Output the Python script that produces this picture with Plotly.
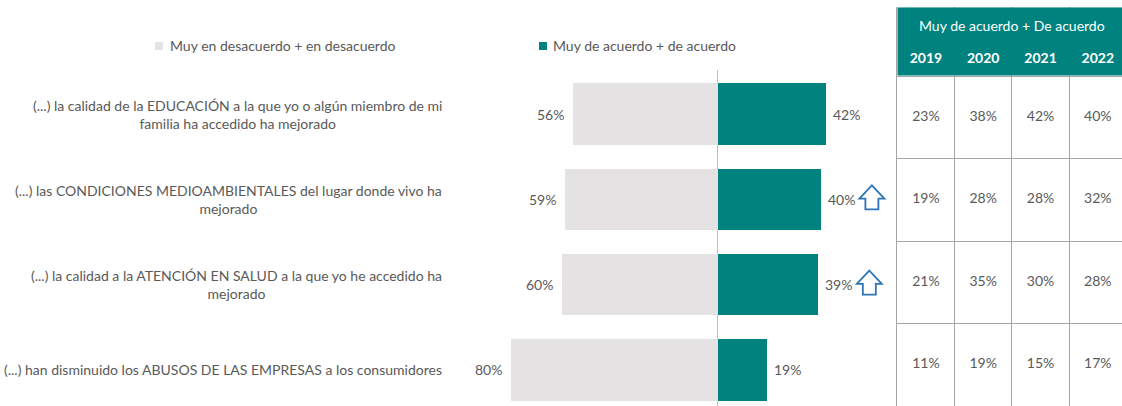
import plotly.graph_objects as go

# ---------------- data ----------------
categories = [
    "(...) la calidad de la EDUCACIÓN a la que yo o algún miembro de mi<br>familia ha accedido ha mejorado",
    "(...) las CONDICIONES MEDIOAMBIENTALES del lugar donde vivo ha<br>mejorado",
    "(...) la calidad a la ATENCIÓN EN SALUD a la que yo he accedido ha<br>mejorado",
    "(...) han disminuido los ABUSOS DE LAS EMPRESAS a los consumidores",
]
disagree = [56, 59, 60, 80]
agree = [42, 40, 39, 19]
significant_up = [False, True, True, False]

series_names = ["Muy en desacuerdo + en desacuerdo", "Muy de acuerdo + de acuerdo"]

table_title = "Muy de acuerdo + De acuerdo"
years = ["2019", "2020", "2021", "2022"]
agree_2019 = [23, 19, 21, 11]
agree_2020 = [38, 28, 35, 19]
agree_2021 = [42, 28, 30, 15]
agree_2022 = [40, 32, 28, 17]
table_columns = [agree_2019, agree_2020, agree_2021, agree_2022]

# ---------------- style ----------------
W, H = 1122, 406
FONT = "Lato"
TXT = "#595959"
GRAY = "#E4E2E3"
TEAL = "#00827F"
BLUE = "#2E75B6"
GRID = "#A6A6A6"

def px_x(p):
    return p / W

def px_y(p):
    return 1 - p / H

# bar area geometry (pixels)
bar_left_px, bar_right_px, zero_px, px_per_pct = 440, 895, 717.5, 2.585
bar_top_px = 70
row_step_px, first_row_px = 85.3, 114
y_lo = -(first_row_px - bar_top_px) / row_step_px
y_hi = y_lo + (H - bar_top_px) / row_step_px

# table geometry (pixels)
tab_left_px, col_w_px, tab_top_px, head_bot_px, row_h_px = 897.3, 57.3, 7.3, 76, 82.5

idx = list(range(len(categories)))

fig = go.Figure()

fig.add_trace(go.Bar(
    x=[-v for v in disagree], y=idx, orientation="h", width=0.72,
    marker=dict(color=GRAY, line=dict(width=0)),
    name=series_names[0], showlegend=False, hoverinfo="skip",
))
fig.add_trace(go.Bar(
    x=agree, y=idx, orientation="h", width=0.72,
    marker=dict(color=TEAL, line=dict(width=0)),
    name=series_names[1], showlegend=False, hoverinfo="skip",
))

# table values
tx, ty, tt = [], [], []
for c, col in enumerate(table_columns):
    for r, v in enumerate(col):
        tx.append(c + 0.5)
        ty.append(r + 0.5)
        tt.append(f"{v}%")
fig.add_trace(go.Scatter(
    x=tx, y=ty, text=tt, mode="text", xaxis="x2", yaxis="y2",
    textfont=dict(family=FONT, size=14, color=TXT), showlegend=False, hoverinfo="skip",
))
# year header
head_h_units = (head_bot_px - tab_top_px) / row_h_px
fig.add_trace(go.Scatter(
    x=[c + 0.5 for c in range(len(years))], y=[(60 - head_bot_px) / row_h_px] * len(years),
    text=[f"<b>{y}</b>" for y in years], mode="text", xaxis="x2", yaxis="y2",
    textfont=dict(family=FONT, size=14, color="white"), showlegend=False, hoverinfo="skip",
))

shapes = []
annotations = []

# bar value labels
for i in idx:
    annotations.append(dict(xref="x", yref="y", x=-disagree[i], y=i, xanchor="right", yanchor="middle",
                            xshift=-7, text=f"{disagree[i]}%", showarrow=False,
                            font=dict(family=FONT, size=14, color=TXT)))
    annotations.append(dict(xref="x", yref="y", x=agree[i], y=i, xanchor="left", yanchor="middle",
                            xshift=5, text=f"{agree[i]}%", showarrow=False,
                            font=dict(family=FONT, size=14, color=TXT)))

# header rectangle
x2_max = (W - tab_left_px) / col_w_px
shapes.append(dict(type="rect", xref="x2", yref="y2", x0=0, x1=x2_max,
                   y0=-head_h_units, y1=-0.006, fillcolor=TEAL, line=dict(width=0), layer="between"))
annotations.append(dict(xref="x2", yref="y2", x=2.0, y=(25.7 - head_bot_px) / row_h_px,
                        text=table_title, showarrow=False,
                        font=dict(family=FONT, size=14, color="white")))

# category labels
for i, lab in enumerate(categories):
    annotations.append(dict(xref="paper", yref="y", x=px_x(444), y=i, xanchor="right",
                            yanchor="middle", align="center", text=lab, showarrow=False,
                            font=dict(family=FONT, size=14, color=TXT)))

# legend (manual)
for (sq_x, tx_x, color, name) in [(155, 168, GRAY, series_names[0]), (539, 551, TEAL, series_names[1])]:
    shapes.append(dict(type="rect", xref="paper", yref="paper", x0=px_x(sq_x), x1=px_x(sq_x + 8),
                       y0=px_y(50), y1=px_y(42), fillcolor=color, line=dict(width=0)))
    annotations.append(dict(xref="paper", yref="paper", x=px_x(tx_x), y=px_y(45.5), xanchor="left",
                            yanchor="middle", text=name, showarrow=False,
                            font=dict(family=FONT, size=14, color=TXT)))

# significance arrows
def arrow_path(cx, cy):
    pts = [(0, 12), (12.5, -1.3), (6.5, -1.3), (6.5, -12), (-6.5, -12), (-6.5, -1.3), (-12.5, -1.3)]
    return "M" + " L".join(f"{cx + a:.1f},{cy + b:.1f}" for a, b in pts) + " Z"

for i, flag in enumerate(significant_up):
    if flag:
        shapes.append(dict(type="path", xref="x", yref="y", xsizemode="pixel", ysizemode="pixel",
                           xanchor=agree[i], yanchor=i, path=arrow_path(51, 2),
                           fillcolor="white", line=dict(color=BLUE, width=1.8), layer="above"))

fig.update_layout(
    width=W, height=H, margin=dict(l=0, r=0, t=0, b=0),
    paper_bgcolor="white", plot_bgcolor="rgba(0,0,0,0)",
    barmode="relative", bargap=0,
    font=dict(family=FONT, color=TXT),
    xaxis=dict(domain=[px_x(bar_left_px), px_x(bar_right_px)],
               range=[-(zero_px - bar_left_px) / px_per_pct, (bar_right_px - zero_px) / px_per_pct],
               showgrid=False, showticklabels=False, zeroline=True, zerolinecolor="#BFBFBF",
               zerolinewidth=1, fixedrange=True),
    yaxis=dict(domain=[0, px_y(bar_top_px)], range=[y_hi, y_lo], showgrid=False,
               showticklabels=False, zeroline=False, fixedrange=True),
    xaxis2=dict(domain=[px_x(tab_left_px), 1], range=[0, x2_max], anchor="y2",
                showgrid=True, gridcolor=GRID, gridwidth=1, dtick=1, tick0=0,
                showticklabels=False, zeroline=False, fixedrange=True),
    yaxis2=dict(domain=[0, px_y(tab_top_px)], range=[(H - head_bot_px) / row_h_px, -head_h_units],
                anchor="x2", showgrid=True, gridcolor=GRID, gridwidth=1, dtick=1, tick0=0,
                showticklabels=False, zeroline=False, showline=True, linecolor=GRID,
                linewidth=1, fixedrange=True),
    shapes=shapes, annotations=annotations, showlegend=False,
)

fig.write_html("out.html", config={"displayModeBar": False},
               post_script="document.body.style.margin='0';document.body.style.overflow='hidden';")
